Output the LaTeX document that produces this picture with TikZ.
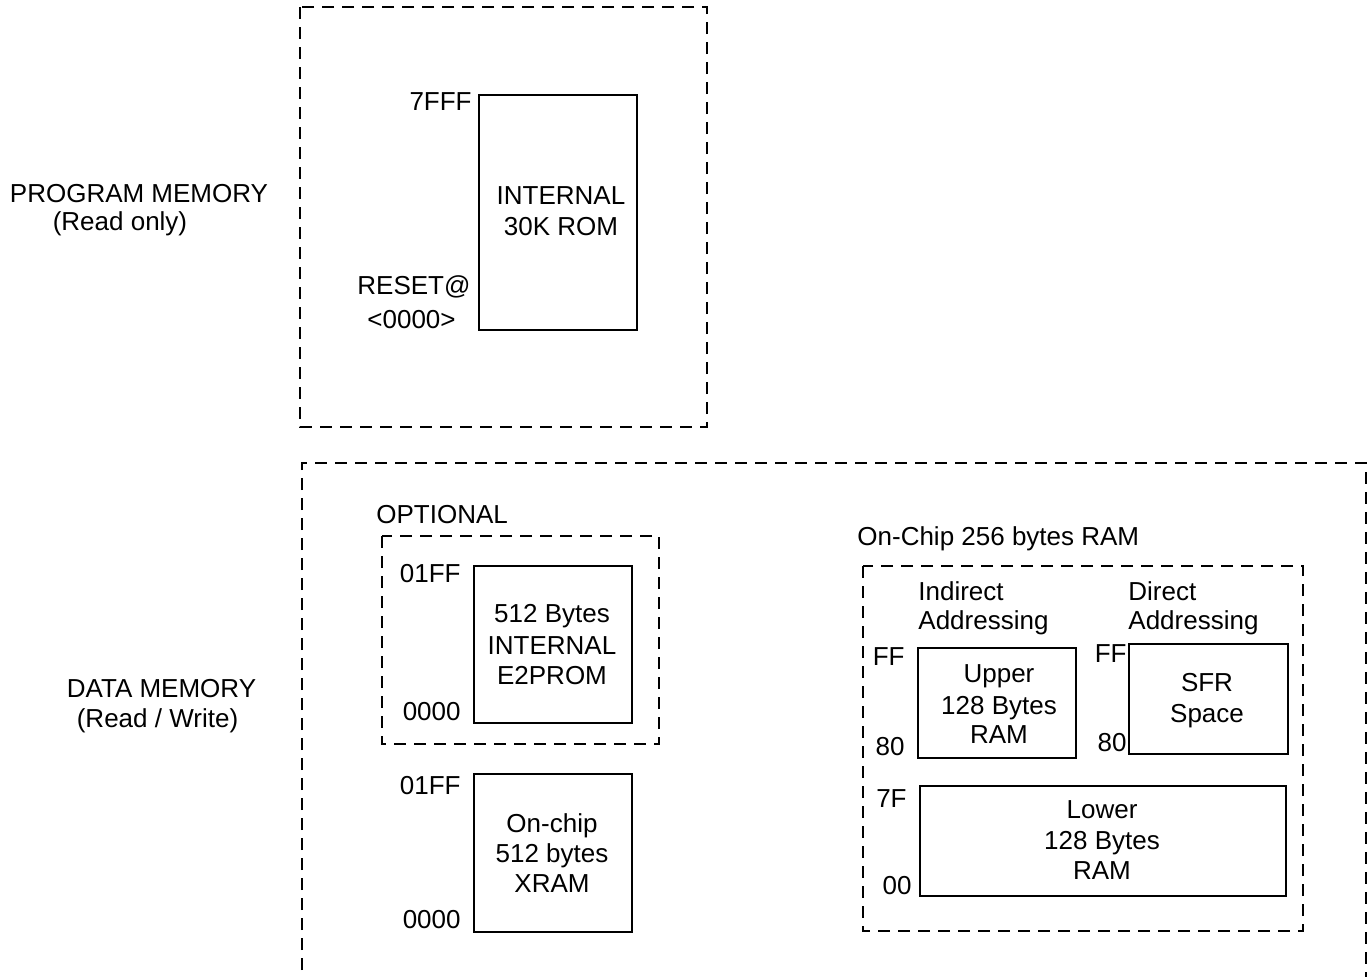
\documentclass[tikz,border=0pt]{standalone}
\usepackage{fontspec}
\setmainfont{Liberation Sans}
\begin{document}
\begin{tikzpicture}[x=0.5pt,y=-0.5pt,
  lbl/.style={inner sep=0pt,font=\fontsize{13}{15}\selectfont},
  membox/.style={draw,line width=1pt},
  dashbox/.style={draw,line width=1pt,dash pattern=on 6pt off 4pt},
]
\useasboundingbox (0,0) rectangle (1369,976);
% outer dashed regions
\draw[dashbox] (300,7) rectangle (707,427);
\draw[dashbox] (302,990) -- (302,463) -- (1366,463) -- (1366,990);
\draw[dashbox] (382,536) rectangle (659,744);
\draw[dashbox] (863,566) rectangle (1303,931);
% memory boxes
\node[membox,inner sep=0pt,minimum width=79pt,minimum height=117.5pt,anchor=north west] (rom) at (478,94) {};
\node[membox,inner sep=0pt,minimum width=79pt,minimum height=78.5pt,anchor=north west] (eep) at (473,565) {};
\node[membox,inner sep=0pt,minimum width=79pt,minimum height=79pt,anchor=north west] (xram) at (473,773) {};
\node[membox,inner sep=0pt,minimum width=79pt,minimum height=55pt,anchor=north west] (upper) at (917,647) {};
\node[membox,inner sep=0pt,minimum width=79.5pt,minimum height=55pt,anchor=north west] (sfr) at (1128,643) {};
\node[membox,inner sep=0pt,minimum width=183pt,minimum height=55pt,anchor=north west] (lower) at (919,785) {};
% left labels
\node[lbl,anchor=base] (pm1) at (139,202) {PROGRAM MEMORY};
\node[lbl,anchor=base] (pm2) at (120,230) {(Read only)};
\node[lbl,anchor=base] (dm1) at (161.5,697) {DATA MEMORY};
\node[lbl,anchor=base] (dm2) at (157.5,727) {(Read / Write)};
% ROM
\node[lbl,anchor=base east] (a7fff) at (472,110) {7FFF};
\node[lbl,anchor=base] (rom1) at (561,204) {INTERNAL};
\node[lbl,anchor=base] (rom2) at (561,235) {30K ROM};
\node[lbl,anchor=base west] (rst1) at (357,294) {RESET@};
\node[lbl,anchor=base west] (rst2) at (367,328) {<0000>};
% OPTIONAL E2PROM
\node[lbl,anchor=base west] (opt) at (376,523) {OPTIONAL};
\node[lbl,anchor=base east] (e1) at (461,582) {01FF};
\node[lbl,anchor=base east] (e0) at (461,720) {0000};
\node[lbl,anchor=base] (et1) at (552,622) {512 Bytes};
\node[lbl,anchor=base] (et2) at (552,654) {INTERNAL};
\node[lbl,anchor=base] (et3) at (552,684) {E2PROM};
% XRAM
\node[lbl,anchor=base east] (x1) at (461,794) {01FF};
\node[lbl,anchor=base east] (x0) at (461,928) {0000};
\node[lbl,anchor=base] (xt1) at (552,832) {On-chip};
\node[lbl,anchor=base] (xt2) at (552,862) {512 bytes};
\node[lbl,anchor=base] (xt3) at (552,892) {XRAM};
% On-chip RAM
\node[lbl,anchor=base west] (oc) at (857,545) {On-Chip 256 bytes RAM};
\node[lbl,anchor=base west] (ind1) at (918,600) {Indirect};
\node[lbl,anchor=base west] (ind2) at (918,629) {Addressing};
\node[lbl,anchor=base west] (dir1) at (1128,600) {Direct};
\node[lbl,anchor=base west] (dir2) at (1128,629) {Addressing};
\node[lbl,anchor=base east] (uff) at (905,665) {FF};
\node[lbl,anchor=base east] (u80) at (905,755) {80};
\node[lbl,anchor=base] (ut1) at (999,682) {Upper};
\node[lbl,anchor=base] (ut2) at (999,714) {128 Bytes};
\node[lbl,anchor=base] (ut3) at (999,743) {RAM};
\node[lbl,anchor=base east] (sff) at (1127,662) {FF};
\node[lbl,anchor=base east] (s80) at (1127,751) {80};
\node[lbl,anchor=base] (st1) at (1207,691) {SFR};
\node[lbl,anchor=base] (st2) at (1207,722) {Space};
\node[lbl,anchor=base east] (l7f) at (907,807) {7F};
\node[lbl,anchor=base east] (l00) at (912,894) {00};
\node[lbl,anchor=base] (lt1) at (1102,818) {Lower};
\node[lbl,anchor=base] (lt2) at (1102,849) {128 Bytes};
\node[lbl,anchor=base] (lt3) at (1102,879) {RAM};
\end{tikzpicture}
\end{document}
